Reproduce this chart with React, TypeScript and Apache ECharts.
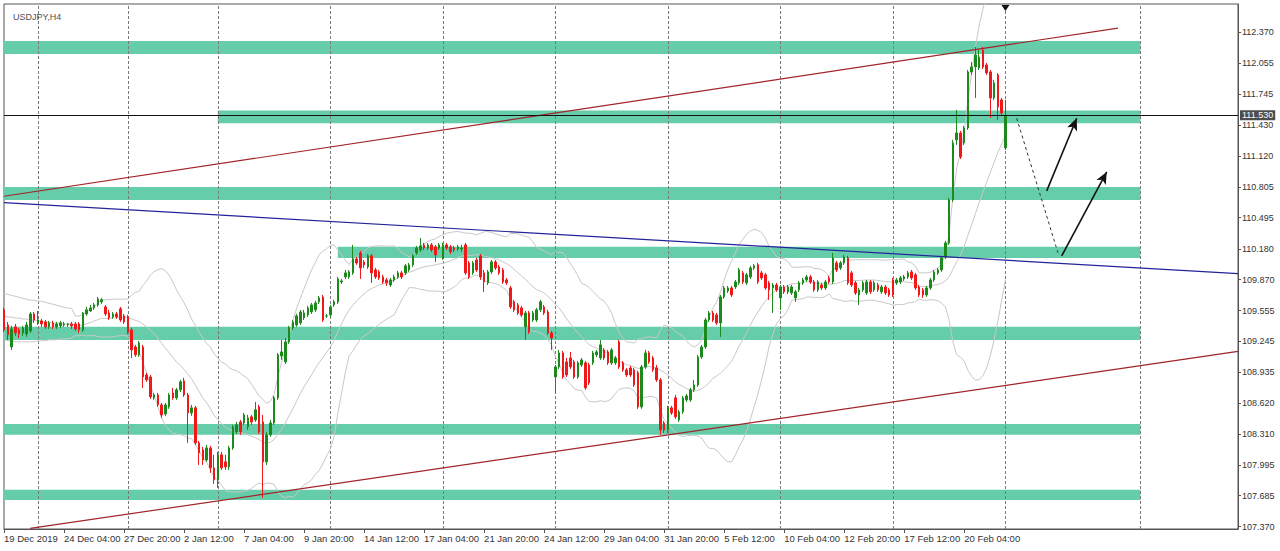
import React, { useEffect, useRef } from 'react';
import * as echarts from 'echarts';

const chartTitle = 'USDJPY,H4';

// [open, close, low, high] per H4 bar
const candles: number[][] = [
  [109.563, 109.360, 109.340, 109.583], [109.411, 109.310, 109.259, 109.441], [109.188, 109.370, 109.158, 109.401], [109.391, 109.330, 109.300, 109.421],
  [109.360, 109.320, 109.279, 109.381], [109.330, 109.381, 109.300, 109.401], [109.320, 109.411, 109.290, 109.441], [109.350, 109.522, 109.330, 109.542],
  [109.522, 109.461, 109.431, 109.542], [109.431, 109.461, 109.411, 109.552], [109.451, 109.421, 109.391, 109.472], [109.441, 109.391, 109.370, 109.461],
  [109.391, 109.431, 109.370, 109.451], [109.431, 109.391, 109.370, 109.451], [109.391, 109.421, 109.370, 109.441], [109.401, 109.431, 109.381, 109.451],
  [109.411, 109.421, 109.391, 109.441], [109.411, 109.421, 109.391, 109.431], [109.421, 109.401, 109.370, 109.441], [109.421, 109.370, 109.350, 109.441],
  [109.421, 109.360, 109.330, 109.441], [109.360, 109.532, 109.340, 109.542], [109.522, 109.563, 109.502, 109.593], [109.552, 109.583, 109.542, 109.613],
  [109.583, 109.613, 109.563, 109.633], [109.613, 109.674, 109.593, 109.694], [109.644, 109.664, 109.623, 109.684], [109.593, 109.522, 109.502, 109.613],
  [109.532, 109.482, 109.461, 109.563], [109.492, 109.522, 109.472, 109.542], [109.522, 109.492, 109.472, 109.542], [109.573, 109.461, 109.441, 109.593],
  [109.502, 109.441, 109.421, 109.522], [109.492, 109.340, 109.320, 109.512], [109.360, 109.158, 109.077, 109.381], [109.188, 109.108, 109.087, 109.209],
  [109.108, 109.229, 109.087, 109.249], [109.188, 108.885, 108.774, 109.209], [108.905, 108.855, 108.835, 108.926], [108.885, 108.683, 108.663, 108.905],
  [108.673, 108.703, 108.653, 108.723], [108.703, 108.602, 108.582, 108.723], [108.602, 108.501, 108.471, 108.622], [108.511, 108.602, 108.491, 108.622],
  [108.582, 108.703, 108.562, 108.723], [108.723, 108.673, 108.653, 108.774], [108.673, 108.754, 108.653, 108.774], [108.754, 108.835, 108.733, 108.855],
  [108.845, 108.703, 108.683, 108.875], [108.703, 108.521, 108.218, 108.723], [108.521, 108.572, 108.491, 108.602], [108.572, 108.218, 108.198, 108.592],
  [108.218, 108.117, 107.995, 108.238], [108.147, 108.046, 107.995, 108.177], [108.046, 108.167, 108.026, 108.198], [108.167, 107.965, 107.915, 108.188],
  [107.965, 107.844, 107.803, 108.097], [107.844, 108.097, 107.763, 108.127], [108.097, 107.965, 107.945, 108.127], [108.026, 107.975, 107.945, 108.097],
  [107.975, 108.167, 107.945, 108.188], [108.167, 108.380, 108.147, 108.400], [108.329, 108.400, 108.309, 108.430], [108.430, 108.329, 108.299, 108.450],
  [108.420, 108.501, 108.400, 108.521], [108.380, 108.471, 108.349, 108.501], [108.481, 108.430, 108.400, 108.501], [108.450, 108.552, 108.430, 108.632],
  [108.582, 108.329, 108.309, 108.602], [108.430, 108.026, 107.662, 108.501], [108.026, 108.299, 107.995, 108.329], [108.299, 108.420, 108.279, 108.450],
  [108.420, 108.673, 108.400, 108.693], [108.673, 109.108, 108.653, 109.128], [109.097, 109.138, 109.057, 109.259], [109.037, 109.239, 109.017, 109.279],
  [109.239, 109.381, 109.219, 109.401], [109.381, 109.441, 109.360, 109.461], [109.411, 109.502, 109.391, 109.522], [109.431, 109.542, 109.411, 109.563],
  [109.482, 109.532, 109.461, 109.563], [109.512, 109.583, 109.492, 109.603], [109.542, 109.613, 109.522, 109.633], [109.563, 109.633, 109.542, 109.654],
  [109.644, 109.684, 109.623, 109.704], [109.694, 109.461, 109.441, 109.714], [109.502, 109.502, 109.482, 109.522], [109.512, 109.593, 109.492, 109.613],
  [109.613, 109.644, 109.593, 109.664], [109.644, 109.876, 109.623, 109.896], [109.846, 109.856, 109.825, 109.876], [109.896, 109.937, 109.876, 109.967],
  [109.896, 109.947, 109.876, 109.967], [109.937, 110.078, 109.917, 110.220], [110.078, 110.038, 110.018, 110.098], [110.139, 109.987, 109.876, 110.159],
  [110.048, 110.018, 109.987, 110.068], [109.997, 110.109, 109.977, 110.129], [110.109, 109.937, 109.836, 110.129], [109.967, 109.896, 109.876, 109.987],
  [109.947, 109.886, 109.866, 109.967], [109.896, 109.846, 109.825, 109.917], [109.866, 109.836, 109.805, 109.886], [109.815, 109.866, 109.795, 109.886],
  [109.866, 109.896, 109.846, 109.917], [109.896, 109.937, 109.876, 109.957], [109.937, 109.896, 109.876, 109.957], [109.937, 110.008, 109.917, 110.028],
  [109.967, 110.018, 109.947, 110.038], [110.018, 110.109, 109.997, 110.129], [110.139, 110.189, 110.119, 110.210], [110.169, 110.210, 110.149, 110.290],
  [110.220, 110.189, 110.169, 110.240], [110.189, 110.220, 110.169, 110.240], [110.220, 110.169, 110.149, 110.240], [110.200, 110.119, 110.048, 110.220],
  [110.189, 110.220, 110.169, 110.240], [110.088, 110.220, 110.068, 110.240], [110.220, 110.189, 110.169, 110.240], [110.200, 110.149, 110.129, 110.220],
  [110.189, 110.169, 110.149, 110.210], [110.179, 110.200, 110.159, 110.220], [110.179, 110.189, 110.149, 110.220], [110.220, 109.937, 109.917, 110.240],
  [110.038, 109.896, 109.876, 110.058], [109.937, 110.038, 109.917, 110.058], [110.068, 109.967, 109.947, 110.088], [110.109, 109.896, 109.866, 110.129],
  [109.937, 109.846, 109.745, 109.967], [109.836, 109.947, 109.815, 109.967], [109.947, 110.048, 109.927, 110.068], [110.048, 109.987, 109.967, 110.068],
  [109.997, 109.937, 109.917, 110.018], [109.967, 109.846, 109.825, 109.987], [109.866, 109.836, 109.815, 109.886], [109.785, 109.593, 109.573, 109.805],
  [109.644, 109.563, 109.542, 109.664], [109.613, 109.532, 109.512, 109.633], [109.583, 109.512, 109.492, 109.603], [109.391, 109.532, 109.259, 109.552],
  [109.532, 109.340, 109.320, 109.552], [109.461, 109.532, 109.441, 109.552], [109.461, 109.563, 109.441, 109.583], [109.563, 109.644, 109.542, 109.664],
  [109.593, 109.532, 109.512, 109.613], [109.542, 109.330, 109.310, 109.563], [109.330, 109.279, 109.158, 109.350], [108.885, 108.986, 108.723, 109.006],
  [108.986, 109.128, 108.966, 109.158], [109.128, 108.885, 108.865, 109.148], [109.037, 108.905, 108.885, 109.077], [109.077, 108.986, 108.966, 109.138],
  [109.037, 108.885, 108.865, 109.057], [108.885, 109.027, 108.865, 109.047], [109.006, 109.057, 108.986, 109.077], [109.027, 108.774, 108.754, 109.047],
  [109.006, 108.824, 108.804, 109.027], [109.027, 109.128, 109.006, 109.148], [109.108, 109.138, 109.087, 109.158], [109.077, 109.209, 109.057, 109.259],
  [109.158, 109.077, 109.057, 109.178], [109.138, 109.027, 109.006, 109.158], [109.027, 109.158, 109.006, 109.178], [109.027, 109.077, 109.006, 109.097],
  [109.239, 108.986, 108.966, 109.259], [109.027, 108.956, 108.936, 109.047], [108.956, 108.905, 108.885, 108.976], [108.976, 108.905, 108.885, 108.996],
  [108.956, 108.804, 108.784, 108.976], [108.926, 108.582, 108.562, 108.946], [108.582, 108.986, 108.562, 109.006], [108.986, 109.128, 108.966, 109.158],
  [109.128, 109.037, 109.017, 109.148], [109.077, 108.956, 108.936, 109.097], [108.976, 108.855, 108.835, 109.006], [108.855, 108.349, 108.299, 108.875],
  [108.420, 108.349, 108.319, 108.440], [108.349, 108.572, 108.319, 108.592], [108.572, 108.521, 108.501, 108.592], [108.673, 108.481, 108.461, 108.703],
  [108.450, 108.531, 108.430, 108.552], [108.531, 108.673, 108.511, 108.693], [108.653, 108.693, 108.632, 108.713], [108.653, 108.754, 108.632, 108.774],
  [108.754, 108.804, 108.733, 108.855], [108.804, 109.087, 108.784, 109.108], [109.087, 109.188, 109.067, 109.209], [109.188, 109.461, 109.168, 109.482],
  [109.461, 109.532, 109.441, 109.552], [109.532, 109.461, 109.441, 109.552], [109.512, 109.431, 109.411, 109.532], [109.431, 109.694, 109.290, 109.714],
  [109.694, 109.785, 109.674, 109.805], [109.755, 109.785, 109.734, 109.805], [109.785, 109.714, 109.694, 109.805], [109.795, 109.846, 109.775, 109.866],
  [109.836, 109.967, 109.815, 109.987], [109.937, 109.846, 109.825, 109.957], [109.836, 109.917, 109.815, 109.937], [109.896, 109.987, 109.876, 110.008],
  [109.987, 110.008, 109.967, 110.028], [110.018, 109.846, 109.825, 110.038], [109.937, 109.886, 109.866, 109.957], [109.917, 109.785, 109.765, 109.937],
  [109.836, 109.765, 109.664, 109.856], [109.785, 109.815, 109.532, 109.836], [109.815, 109.765, 109.745, 109.836], [109.684, 109.795, 109.563, 109.815],
  [109.795, 109.745, 109.724, 109.815], [109.745, 109.795, 109.724, 109.815], [109.734, 109.795, 109.714, 109.815], [109.684, 109.745, 109.644, 109.765],
  [109.765, 109.836, 109.745, 109.856], [109.836, 109.866, 109.815, 109.886], [109.866, 109.896, 109.846, 109.917], [109.896, 109.846, 109.825, 109.917],
  [109.846, 109.765, 109.745, 109.866], [109.765, 109.846, 109.745, 109.866], [109.815, 109.785, 109.765, 109.836], [109.785, 109.846, 109.765, 109.866],
  [109.886, 109.846, 109.825, 109.906], [109.846, 110.088, 109.825, 110.139], [110.038, 109.967, 109.947, 110.058], [109.987, 110.038, 109.967, 110.058],
  [110.038, 110.098, 110.018, 110.119], [110.088, 109.836, 109.815, 110.109], [109.937, 109.815, 109.795, 109.957], [109.836, 109.734, 109.714, 109.856],
  [109.714, 109.765, 109.613, 109.785], [109.765, 109.836, 109.745, 109.856], [109.734, 109.846, 109.714, 109.866], [109.846, 109.745, 109.724, 109.866],
  [109.765, 109.836, 109.745, 109.856], [109.815, 109.765, 109.745, 109.836], [109.745, 109.795, 109.724, 109.815], [109.795, 109.734, 109.714, 109.815],
  [109.765, 109.714, 109.694, 109.785], [109.866, 109.714, 109.694, 109.886], [109.836, 109.866, 109.815, 109.886], [109.846, 109.886, 109.825, 109.906],
  [109.876, 109.896, 109.856, 109.917], [109.896, 109.937, 109.876, 109.957], [109.947, 109.886, 109.866, 109.967], [109.917, 109.785, 109.765, 109.937],
  [109.795, 109.714, 109.694, 109.815], [109.765, 109.714, 109.684, 109.785], [109.714, 109.785, 109.694, 109.805], [109.785, 109.866, 109.765, 109.886],
  [109.866, 109.947, 109.846, 109.967], [109.937, 109.967, 109.917, 109.987], [109.967, 110.088, 109.947, 110.109], [110.098, 110.240, 110.078, 110.260],
  [110.240, 110.675, 110.220, 110.695], [110.675, 111.251, 110.655, 111.282], [111.282, 111.352, 111.231, 111.585], [111.352, 111.110, 111.089, 111.372],
  [111.251, 111.403, 111.231, 111.423], [111.403, 111.969, 111.383, 111.989], [111.969, 112.020, 111.939, 112.070], [112.020, 112.141, 111.706, 112.222],
  [112.009, 112.121, 111.989, 112.191], [112.191, 112.020, 111.999, 112.222], [112.040, 111.959, 111.939, 112.060], [111.969, 111.706, 111.504, 111.989],
  [111.706, 111.858, 111.686, 111.888], [111.939, 111.615, 111.484, 111.959], [111.686, 111.554, 111.534, 111.706], [111.201, 111.530, 111.180, 111.686],
];

// Bollinger band values left of the first full 20-bar window
const bbUpperLead = [109.73, 109.72, 109.71, 109.70, 109.69, 109.68, 109.67, 109.66, 109.66, 109.65, 109.65, 109.64, 109.63, 109.62, 109.61, 109.60, 109.59, 109.58, 109.58];
const bbMidLead = [109.50, 109.49, 109.49, 109.48, 109.48, 109.47, 109.47, 109.46, 109.46, 109.45, 109.45, 109.44, 109.44, 109.43, 109.43, 109.43, 109.42, 109.42, 109.42];
const bbLowerLead = [109.26, 109.25, 109.25, 109.24, 109.24, 109.24, 109.24, 109.24, 109.24, 109.25, 109.25, 109.25, 109.26, 109.26, 109.26, 109.27, 109.27, 109.27, 109.28];
const bbPeriod = 20;
const bbDeviation = 2;

const lastPrice = 111.53;
const totalSlots = 330;
const labelStep = 16;
const xTickLabels = [
  '19 Dec 2019', '24 Dec 04:00', '27 Dec 20:00', '2 Jan 12:00', '7 Jan 04:00', '9 Jan 20:00',
  '14 Jan 12:00', '17 Jan 04:00', '21 Jan 20:00', '24 Jan 12:00', '29 Jan 04:00', '31 Jan 20:00',
  '5 Feb 12:00', '10 Feb 04:00', '12 Feb 20:00', '17 Feb 12:00', '20 Feb 04:00',
];
const yTicks = [107.37, 107.685, 107.995, 108.31, 108.62, 108.935, 109.245, 109.555, 109.87, 110.18, 110.495, 110.805, 111.12, 111.43, 111.745, 112.055, 112.37];
const yMin = 107.347;
const yMax = 112.656;

// support / resistance zones
const zoneTop = [112.282, 111.578, 110.806, 110.200, 109.391, 108.410, 107.743];
const zoneBottom = [112.151, 111.450, 110.675, 110.088, 109.259, 108.299, 107.641];
const zoneStart = [0, 57, 0, 89, 0, 0, 0];
const zoneEnd = 303;

const gridBars = [9, 33, 57, 87, 117, 147, 177, 207, 237, 267, 303];

// trend lines: [bar, price] end points
const upperChannel = [[0, 110.712], [297, 112.412]];
const lowerChannel = [[7, 107.353], [329, 109.143]];
const blueTrend = [[0, 110.647], [329, 109.93]];
const projection = [[270, 111.5], [281, 110.14]];
const arrowA = [[278, 110.766], [286, 111.5]];
const arrowB = [[282, 110.109], [294, 110.958]];
const shiftMarkerBar = 267;

const FONT = "'Liberation Sans', Arial, sans-serif";

function bollinger() {
  const closes = candles.map((c) => c[1]);
  const up: number[] = [];
  const mid: number[] = [];
  const lo: number[] = [];
  for (let i = 0; i < closes.length; i++) {
    if (i < bbUpperLead.length) {
      up.push(bbUpperLead[i]);
      mid.push(bbMidLead[i]);
      lo.push(bbLowerLead[i]);
      continue;
    }
    const w = closes.slice(i - bbPeriod + 1, i + 1);
    const m = w.reduce((a, b) => a + b, 0) / w.length;
    const sd = Math.sqrt(w.reduce((a, b) => a + (b - m) * (b - m), 0) / w.length);
    up.push(m + bbDeviation * sd);
    mid.push(m);
    lo.push(m - bbDeviation * sd);
  }
  return { up, mid, lo };
}

export default function App() {
  const ref = useRef<HTMLDivElement>(null);
  useEffect(() => {
    document.body.style.margin = '0';
    if (!ref.current) return;
    const chart = echarts.init(ref.current, undefined, { renderer: 'svg' });
    const bb = bollinger();
    const cats = Array.from({ length: totalSlots }, (_, i) => String(i));
    const isLabel = (i: number) => i % labelStep === 0 && i / labelStep < xTickLabels.length;
    const bbLine = (name: string, data: number[]) => ({
      name,
      type: 'line',
      data,
      showSymbol: false,
      symbol: 'none',
      silent: true,
      z: 1.8,
      lineStyle: { color: '#c8c8c8', width: 1 },
    });
    const seg = (pts: number[][], color: string, width: number, type: any = 'solid') => [
      { coord: pts[0], lineStyle: { color, width, type } },
      { coord: pts[1] },
    ];
    const arrow = (pts: number[][]) => [
      { coord: pts[0], symbol: 'none', lineStyle: { color: '#111', width: 1.6, type: 'solid' } },
      { coord: pts[1], symbol: 'arrow', symbolSize: [8, 12] },
    ];

    chart.setOption({
      animation: false,
      backgroundColor: '#ffffff',
      title: {
        text: chartTitle,
        left: 8,
        top: 7,
        textStyle: { fontSize: 9, fontWeight: 'normal', color: '#505050', fontFamily: FONT },
      },
      grid: {
        left: 4,
        top: 4,
        right: 42,
        bottom: 22,
        show: true,
        borderColor: '#555',
        borderWidth: 1,
        backgroundColor: '#ffffff',
      },
      xAxis: {
        type: 'category',
        data: cats,
        boundaryGap: false,
        axisLine: { show: true, lineStyle: { color: '#555' } },
        axisTick: { show: true, length: 4, interval: (i: number) => isLabel(i), lineStyle: { color: '#555' } },
        axisLabel: {
          interval: (i: number) => isLabel(i),
          formatter: (_v: string, i: number) => xTickLabels[i / labelStep] ?? '',
          align: 'left',
          margin: 4,
          fontSize: 9.5,
          color: '#333',
          fontFamily: FONT,
        },
        splitLine: { show: false },
      },
      yAxis: {
        type: 'value',
        position: 'right',
        min: yMin,
        max: yMax,
        axisLine: { show: true, lineStyle: { color: '#555' } },
        axisTick: { show: true, length: 3, customValues: yTicks, lineStyle: { color: '#555' } },
        axisLabel: {
          customValues: yTicks,
          formatter: (v: number) => v.toFixed(3),
          margin: 4,
          fontSize: 9,
          color: '#333',
          fontFamily: FONT,
        },
        splitLine: { show: false },
      },
      series: [
        {
          name: 'USDJPY',
          type: 'candlestick',
          data: candles,
          barWidth: 2,
          z: 2,
          itemStyle: {
            color: '#1b8a1b',
            color0: '#f01818',
            borderColor: '#1b8a1b',
            borderColor0: '#f01818',
            borderWidth: 1,
          },
          markArea: {
            silent: true,
            z: 1,
            itemStyle: { color: '#66cdaa' },
            label: { show: false },
            data: zoneTop.map((t, k) => [
              { xAxis: zoneStart[k], yAxis: t },
              { xAxis: zoneEnd, yAxis: zoneBottom[k] },
            ]),
          },
          markPoint: {
            silent: true,
            z: 6,
            data: [
              {
                coord: [shiftMarkerBar, yMax],
                symbol: 'triangle',
                symbolRotate: 180,
                symbolSize: [8, 6],
                symbolOffset: [0, 4],
                itemStyle: { color: '#111' },
                label: { show: false },
              },
            ],
          },
        },
        {
          name: 'grid',
          type: 'line',
          data: [],
          silent: true,
          markLine: {
            silent: true,
            z: 1.5,
            symbol: 'none',
            label: { show: false },
            lineStyle: { color: '#7a7a7a', width: 1, type: [3, 2] },
            data: gridBars.map((b) => ({ xAxis: b })),
          },
        },
        bbLine('bbUpper', bb.up),
        bbLine('bbMid', bb.mid),
        bbLine('bbLower', bb.lo),
        {
          name: 'drawings',
          type: 'line',
          data: [],
          silent: true,
          markLine: {
            silent: true,
            z: 5,
            symbol: 'none',
            label: { show: false },
            data: [
              seg(upperChannel, '#a3232b', 1.2),
              seg(lowerChannel, '#a3232b', 1.2),
              seg(blueTrend, '#23239a', 1.2),
              seg(projection, '#333', 1, [3, 3]),
              arrow(arrowA),
              arrow(arrowB),
              {
                yAxis: lastPrice,
                lineStyle: { color: '#111', width: 1, type: 'solid' },
                label: {
                  show: true,
                  position: 'end',
                  formatter: lastPrice.toFixed(3),
                  color: '#fff',
                  backgroundColor: '#4d4d4d',
                  padding: [1, 2, 0, 2],
                  fontSize: 9,
                  distance: 2,
                  fontFamily: FONT,
                },
              },
            ],
          },
        },
      ],
    });
    return () => chart.dispose();
  }, []);
  return <div ref={ref} style={{ width: 1280, height: 551 }} />;
}
